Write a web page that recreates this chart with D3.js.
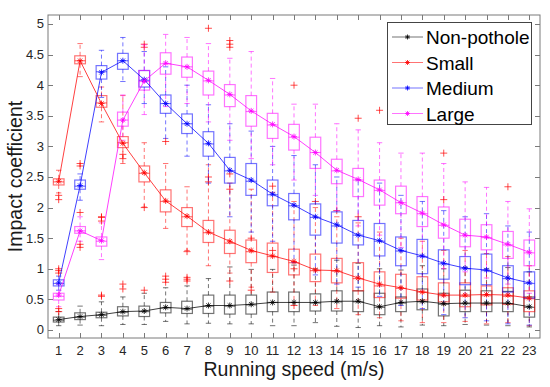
<!DOCTYPE html>
<html>
<head>
<meta charset="utf-8">
<script src="https://cdn.jsdelivr.net/npm/d3@7"></script>
<style>
  html, body { margin: 0; padding: 0; background: #fff; }
  svg { display: block; font-family: "Liberation Sans", Arial, sans-serif; }
</style>
</head>
<body>
<svg id="chart" width="550" height="387"></svg>
<script>
// ---------------- DATA ----------------
const speeds = d3.range(1, 24);
const yTicks = [0, 0.5, 1, 1.5, 2, 2.5, 3, 3.5, 4, 4.5, 5];
const seriesNames = ["Non-pothole", "Small", "Medium", "Large"];

// Non-pothole
const npMean = [0.17,0.22,0.25,0.30,0.31,0.37,0.35,0.40,0.40,0.42,0.45,0.45,0.45,0.47,0.47,0.38,0.45,0.47,0.43,0.44,0.44,0.44,0.38];
const npQ1   = [0.13,0.17,0.20,0.23,0.22,0.28,0.27,0.27,0.26,0.26,0.30,0.30,0.31,0.31,0.30,0.25,0.30,0.33,0.23,0.30,0.30,0.30,0.21];
const npMed  = [0.16,0.21,0.24,0.29,0.30,0.36,0.34,0.39,0.39,0.41,0.45,0.45,0.44,0.46,0.46,0.37,0.44,0.46,0.42,0.43,0.43,0.43,0.37];
const npQ3   = [0.21,0.28,0.29,0.38,0.39,0.45,0.47,0.57,0.57,0.57,0.62,0.62,0.59,0.64,0.64,0.60,0.54,0.67,0.60,0.65,0.64,0.63,0.54];
const npLo   = [0.07,0.08,0.07,0.09,0.09,0.14,0.10,0.11,0.10,0.10,0.07,0.07,0.12,0.06,0.04,0.07,0.05,0.08,0.07,0.09,0.08,0.07,0.05];
const npHi   = [0.30,0.39,0.46,0.54,0.60,0.69,0.72,0.84,1.03,0.99,0.99,1.06,1.00,1.14,1.09,1.00,0.98,1.05,1.00,1.02,1.00,1.02,0.95];
const npOut  = [[3,0.55],[3,0.57],[4,0.67],[4,0.75],[5,0.65],[6,0.78],[6,0.83],[6,0.88],[7,0.80],[7,0.83],[7,0.86]];

// Small
const smMean = [2.43,4.40,3.70,3.05,2.57,2.11,1.86,1.60,1.45,1.30,1.21,1.12,0.98,0.97,0.85,0.75,0.69,0.62,0.57,0.57,0.58,0.57,0.52];
const smQ1   = [2.37,4.35,3.64,2.98,2.42,1.93,1.69,1.43,1.25,1.10,0.94,0.90,0.79,0.77,0.64,0.53,0.52,0.49,0.46,0.38,0.41,0.42,0.30];
const smMed  = [2.42,4.40,3.71,3.06,2.56,2.10,1.85,1.59,1.42,1.28,1.20,1.10,0.97,0.96,0.84,0.72,0.68,0.62,0.56,0.55,0.56,0.55,0.51];
const smQ3   = [2.47,4.48,3.83,3.16,2.68,2.29,2.00,1.79,1.63,1.47,1.42,1.32,1.24,1.17,1.10,0.95,0.91,0.87,0.77,0.77,0.72,0.69,0.64];
const smLo   = [2.24,4.14,3.40,2.72,2.01,1.66,1.30,1.05,0.93,0.70,0.62,0.45,0.40,0.35,0.25,0.20,0.15,0.12,0.12,0.14,0.10,0.12,0.07];
const smHi   = [2.61,4.68,3.97,3.83,3.06,2.72,2.34,2.70,2.40,2.30,2.25,2.10,2.00,1.85,1.75,1.60,1.50,1.45,1.30,1.30,1.25,1.20,1.05];
const smOut  = [[1,2.13],[1,2.20],[4,2.80],[4,2.87],[5,2.00],[7,1.28],[8,2.42],[8,2.50],[9,0.80],[10,0.65],[11,2.35],[12,0.40],[13,2.10],[14,1.95],[15,1.85]];

// Medium
const mdMean = [0.77,2.36,4.21,4.40,4.09,3.70,3.37,3.05,2.61,2.45,2.22,2.04,1.85,1.72,1.55,1.46,1.30,1.21,1.09,1.01,0.98,0.85,0.77];
const mdQ1   = [0.72,2.30,4.10,4.26,3.97,3.54,3.21,2.84,2.40,2.20,2.03,1.80,1.55,1.42,1.39,1.21,1.05,0.92,0.83,0.74,0.74,0.62,0.52];
const mdMed  = [0.76,2.35,4.22,4.40,4.08,3.70,3.37,3.04,2.60,2.43,2.21,2.03,1.84,1.70,1.55,1.45,1.29,1.20,1.08,1.00,0.97,0.84,0.76];
const mdQ3   = [0.82,2.45,4.32,4.52,4.24,3.84,3.53,3.24,2.82,2.72,2.45,2.23,2.06,1.93,1.79,1.74,1.52,1.48,1.31,1.20,1.24,1.05,0.95];
const mdLo   = [0.65,2.12,3.80,4.06,3.70,3.13,2.84,2.40,1.85,1.60,1.45,1.10,0.90,0.75,0.70,0.55,0.40,0.35,0.25,0.20,0.15,0.10,0.08];
const mdHi   = [0.88,2.55,4.57,4.78,4.55,4.30,4.00,3.68,3.37,3.25,3.00,2.85,2.70,2.50,2.45,2.40,2.20,2.10,1.95,1.85,1.90,1.70,1.60];
const mdOut  = [[1,0.93],[1,0.97],[1,1.00],[2,2.68],[2,2.72],[5,4.62],[5,4.67],[6,3.08],[9,2.30],[9,2.55],[10,1.50],[11,1.30],[12,1.00]];

// Large
const lgMean = [0.57,1.62,1.46,3.43,4.07,4.36,4.30,4.08,3.85,3.58,3.36,3.16,2.90,2.61,2.46,2.29,2.08,1.91,1.72,1.55,1.52,1.40,1.27];
const lgQ1   = [0.49,1.58,1.37,3.33,3.92,4.18,4.13,3.84,3.65,3.33,3.13,2.94,2.64,2.39,2.18,2.04,1.90,1.69,1.50,1.36,1.31,1.17,1.05];
const lgMed  = [0.55,1.62,1.45,3.43,4.06,4.35,4.30,4.07,3.84,3.57,3.35,3.15,2.90,2.60,2.45,2.28,2.08,1.90,1.71,1.54,1.51,1.39,1.26];
const lgQ3   = [0.60,1.69,1.52,3.56,4.24,4.53,4.46,4.23,4.01,3.83,3.54,3.36,3.15,2.79,2.64,2.45,2.35,2.18,2.01,1.81,1.72,1.61,1.47];
const lgLo   = [0.38,1.45,1.15,3.10,3.52,3.65,3.70,3.40,3.10,2.80,2.70,2.45,2.20,1.95,1.70,1.55,1.35,1.20,1.00,0.95,0.85,0.75,0.60];
const lgHi   = [0.75,1.85,1.75,3.84,4.66,4.83,4.78,4.68,4.44,4.55,4.11,3.69,3.69,3.37,3.27,3.06,2.89,2.89,2.72,2.42,2.33,2.10,1.98];
const lgOut  = [[1,0.30],[1,0.35],[2,1.35],[2,1.40],[2,1.92],[3,1.78],[3,1.85],[3,1.84],[8,4.93],[9,4.62],[9,4.67],[9,4.73],[12,4.00],[15,3.46],[16,3.59],[19,2.89],[19,2.13],[22,2.34]];

const colors = ["#000000", "#ff0000", "#0000ff", "#ff00ff"];

// ---------------- BUILD ----------------
const series = [
  {mean: npMean, q1: npQ1, med: npMed, q3: npQ3, lo: npLo, hi: npHi, out: npOut},
  {mean: smMean, q1: smQ1, med: smMed, q3: smQ3, lo: smLo, hi: smHi, out: smOut},
  {mean: mdMean, q1: mdQ1, med: mdMed, q3: mdQ3, lo: mdLo, hi: mdHi, out: mdOut},
  {mean: lgMean, q1: lgQ1, med: lgMed, q3: lgQ3, lo: lgLo, hi: lgHi, out: lgOut}
].map((s, i) => Object.assign(s, {name: seriesNames[i], color: colors[i]}));

const svg = d3.select("#chart");
const L = 48, R = 540, T = 15, B = 338;
const x = d3.scaleLinear().domain([0.5, 23.5]).range([L, R]);
const y = d3.scaleLinear().domain([-0.131, 5.147]).range([B, T]);
const bw = x(1.25) - x(1);   // half box width
const cw = x(1.125) - x(1);  // half cap width

function starPath(cx, cy, r) {
  const d = r * 0.72;
  return `M${cx - r},${cy}L${cx + r},${cy}M${cx},${cy - r}L${cx},${cy + r}` +
         `M${cx - d},${cy - d}L${cx + d},${cy + d}M${cx - d},${cy + d}L${cx + d},${cy - d}`;
}
function plusPath(cx, cy, r) {
  return `M${cx - r},${cy}L${cx + r},${cy}M${cx},${cy - r}L${cx},${cy + r}`;
}

const plot = svg.append("g");

series.forEach(s => {
  const g = plot.append("g").attr("stroke", s.color).attr("fill", "none").attr("stroke-opacity", 0.55);
  speeds.forEach((sp, i) => {
    const cx = x(sp);
    // whiskers (dashed)
    g.append("line").attr("x1", cx).attr("x2", cx).attr("y1", y(s.q3[i])).attr("y2", y(s.hi[i]))
      .attr("stroke-dasharray", "4,3").attr("stroke-width", 1);
    g.append("line").attr("x1", cx).attr("x2", cx).attr("y1", y(s.q1[i])).attr("y2", y(s.lo[i]))
      .attr("stroke-dasharray", "4,3").attr("stroke-width", 1);
    // caps
    g.append("line").attr("x1", cx - cw).attr("x2", cx + cw).attr("y1", y(s.hi[i])).attr("y2", y(s.hi[i])).attr("stroke-width", 1);
    g.append("line").attr("x1", cx - cw).attr("x2", cx + cw).attr("y1", y(s.lo[i])).attr("y2", y(s.lo[i])).attr("stroke-width", 1);
    // box
    g.append("rect").attr("x", cx - bw).attr("width", 2 * bw)
      .attr("y", y(s.q3[i])).attr("height", y(s.q1[i]) - y(s.q3[i])).attr("stroke-width", 1.2);
    // median
    g.append("line").attr("x1", cx - bw).attr("x2", cx + bw).attr("y1", y(s.med[i])).attr("y2", y(s.med[i])).attr("stroke-width", 1.2);
  });
  // outliers
  plot.append("g").attr("stroke", "#ff0000").attr("stroke-opacity", 0.7).attr("fill", "none")
    .selectAll("path").data(s.out).join("path")
    .attr("d", d => plusPath(x(d[0]), y(d[1]), 3.5)).attr("stroke-width", 1);
});

// mean lines + markers
const line = d3.line().x((d, i) => x(speeds[i])).y(d => y(d));
series.forEach(s => {
  plot.append("path").datum(s.mean).attr("d", line).attr("fill", "none")
    .attr("stroke", s.color).attr("stroke-opacity", 0.75).attr("stroke-width", 1);
  plot.append("g").selectAll("path").data(s.mean).join("path")
    .attr("d", (d, i) => starPath(x(speeds[i]), y(d), 3))
    .attr("stroke", s.color).attr("stroke-opacity", 0.8).attr("stroke-width", 1).attr("fill", "none");
});

// ---------------- AXES ----------------
const axisColor = "#7a7a7a";
const tl = 5;
const ax = svg.append("g").attr("stroke", axisColor).attr("stroke-width", 1);
ax.append("rect").attr("x", L).attr("y", T).attr("width", R - L).attr("height", B - T).attr("fill", "none");
speeds.forEach(sp => {
  const px = Math.round(x(sp)) + 0.5;
  ax.append("line").attr("x1", px).attr("x2", px).attr("y1", B).attr("y2", B - tl);
  ax.append("line").attr("x1", px).attr("x2", px).attr("y1", T).attr("y2", T + tl);
});
yTicks.forEach(v => {
  const py = Math.round(y(v)) + 0.5;
  ax.append("line").attr("x1", L).attr("x2", L + tl).attr("y1", py).attr("y2", py);
  ax.append("line").attr("x1", R).attr("x2", R - tl).attr("y1", py).attr("y2", py);
});

const labels = svg.append("g").attr("fill", "#262626").attr("font-size", 13);
labels.selectAll("text.xt").data(speeds).join("text").attr("class", "xt")
  .attr("x", d => x(d)).attr("y", 355).attr("text-anchor", "middle").text(d => d);
labels.selectAll("text.yt").data(yTicks).join("text").attr("class", "yt")
  .attr("x", 44).attr("y", d => y(d) + 4.5).attr("text-anchor", "end").text(d => d);

svg.append("text").attr("x", (L + R) / 2).attr("y", 376).attr("text-anchor", "middle")
  .attr("font-size", 19.5).attr("fill", "#1a1a1a").text("Running speed (m/s)");
svg.append("text").attr("transform", `translate(22,${(T + B) / 2}) rotate(-90)`)
  .attr("text-anchor", "middle").attr("font-size", 19.5).attr("fill", "#1a1a1a").text("Impact coefficient");

// ---------------- LEGEND ----------------
const lg = svg.append("g");
lg.append("rect").attr("x", 387.5).attr("y", 22.5).attr("width", 144).attr("height", 102)
  .attr("fill", "#fff").attr("stroke", "#444").attr("stroke-width", 1);
series.forEach((s, i) => {
  const ly = 37 + i * 25.5;
  lg.append("line").attr("x1", 392).attr("x2", 423).attr("y1", ly).attr("y2", ly)
    .attr("stroke", s.color).attr("stroke-opacity", 0.55).attr("stroke-width", 1);
  lg.append("path").attr("d", starPath(407.5, ly, 2.5)).attr("stroke", s.color)
    .attr("stroke-opacity", 0.8).attr("fill", "none");
  lg.append("text").attr("x", 426).attr("y", ly + 7).attr("font-size", 19).attr("fill", "#000").text(s.name);
});
</script>
</body>
</html>
